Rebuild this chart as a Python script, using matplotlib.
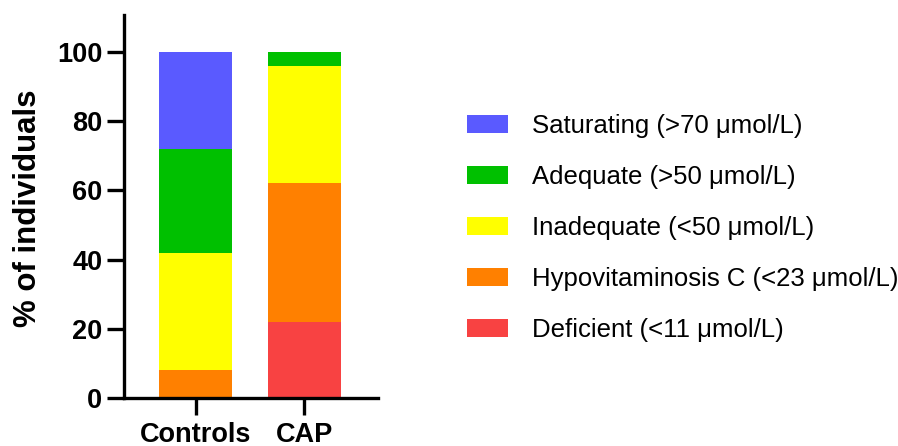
import matplotlib
matplotlib.use("Agg")
import matplotlib.pyplot as plt
import numpy as np

groups = ["Controls", "CAP"]
categories = ["Deficient (<11 \u03bcmol/L)", "Hypovitaminosis C (<23 \u03bcmol/L)",
              "Inadequate (<50 \u03bcmol/L)", "Adequate (>50 \u03bcmol/L)",
              "Saturating (>70 \u03bcmol/L)"]
deficient = [0, 22]
hypovitaminosis = [8, 40]
inadequate = [34, 34]
adequate = [30, 4]
saturating = [28, 0]
series = [deficient, hypovitaminosis, inadequate, adequate, saturating]
colors = ["#F84242", "#FF8000", "#FFFF00", "#00C000", "#5A5AFF"]
yticks = [0, 20, 40, 60, 80, 100]

plt.rcParams['font.family'] = ['Liberation Sans', 'DejaVu Sans']

fig = plt.figure(figsize=(8.98, 4.46), dpi=100)
ax = fig.add_axes([124/898, 1-398/446, (378-124)/898, (398-15)/446])

x = np.arange(len(groups))
bottom = np.zeros(len(groups))
handles = []
for vals, lab, col in zip(series, categories, colors):
    b = ax.bar(x, vals, width=0.67, bottom=bottom, color=col, label=lab, linewidth=0)
    handles.append(b)
    bottom += np.array(vals)

ax.set_xlim(-0.66, 1.68)
ax.set_ylim(0, 110.7)
ax.set_yticks(yticks)
ax.set_xticks(x)
ax.set_xticklabels(groups, fontsize=19.5, fontweight='bold')
ax.set_yticklabels([str(v) for v in yticks], fontsize=19.5, fontweight='bold')
for s in ['top', 'right']:
    ax.spines[s].set_visible(False)
for s in ['left', 'bottom']:
    ax.spines[s].set_linewidth(2.4)
ax.tick_params(axis='both', length=12, width=2.4)
ax.tick_params(axis='y', pad=3.5)
ax.tick_params(axis='x', pad=5)

fig.text(28/898, 1-208/446, "% of individuals", rotation=90, ha='center', va='center',
         fontsize=22.5, fontweight='bold')

leg = fig.legend(handles[::-1], categories[::-1], loc='upper left',
                 bbox_to_anchor=(467/898, 1-114/446), frameon=False, fontsize=18.5,
                 handlelength=1.6, handleheight=0.66, handletextpad=0.93,
                 labelspacing=1.05, borderaxespad=0, borderpad=0)

fig.savefig("out.png", dpi=100)
